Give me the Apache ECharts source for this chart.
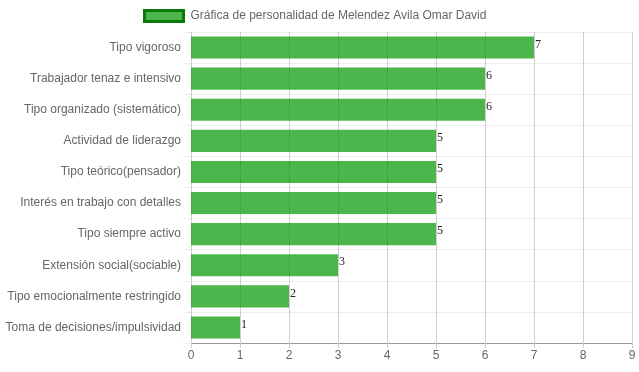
<!DOCTYPE html>
<html><head><meta charset="utf-8">
<script src="https://cdn.jsdelivr.net/npm/echarts@6/dist/echarts.min.js"></script>
<style>html,body{margin:0;padding:0;background:#fff}#c{width:639px;height:372px}</style>
</head><body><div id="c"></div>
<script>
const categories = ["Tipo vigoroso","Trabajador tenaz e intensivo","Tipo organizado (sistemático)","Actividad de liderazgo","Tipo teórico(pensador)","Interés en trabajo con detalles","Tipo siempre activo","Extensión social(sociable)","Tipo emocionalmente restringido","Toma de decisiones/impulsividad"];
const values = [7,6,6,5,5,5,5,3,2,1];
const seriesName = "Gráfica de personalidad de Melendez Avila Omar David";
const chart = echarts.init(document.getElementById('c'), null, {renderer:'canvas'});
chart.setOption({
  animation:false,
  legend:{left:143, top:9, padding:0, itemWidth:39, itemHeight:11, itemGap:9,
    textStyle:{color:'#666', fontFamily:'Liberation Sans, Arial', fontSize:12, padding:[0,0,0,2]},
    data:[{name:seriesName, icon:'rect', itemStyle:{color:'rgba(0,150,0,0.7)', borderColor:'#0a7a0a', borderWidth:3}}]},
  grid:{left:191, right:7, top:32, bottom:29, containLabel:false},
  xAxis:{type:'value', min:0, max:9, interval:1,
    axisLine:{show:true, lineStyle:{color:'#999'}},
    axisTick:{show:true, length:5, lineStyle:{color:'#ccc'}},
    axisLabel:{color:'#666', fontFamily:'Liberation Sans, Arial', fontSize:12, margin:7},
    splitLine:{show:true, lineStyle:{color:'rgba(0,0,0,0.18)'}}},
  yAxis:{type:'category', data:categories, inverse:true,
    axisLine:{show:false},
    axisTick:{show:true, length:8, lineStyle:{color:'#eee'}},
    axisLabel:{color:'#666', fontFamily:'Liberation Sans, Arial', fontSize:12, margin:10},
    splitLine:{show:true, lineStyle:{color:'#eee'}}},
  series:[{name:seriesName, type:'bar', data:values, barCategoryGap:'29%',
    itemStyle:{color:'rgba(0,150,0,0.7)'}, z:1,
    label:{show:true, position:'right', distance:1, offset:[0,-3], color:'#222', fontFamily:'Liberation Serif, Times New Roman, serif', fontSize:12}}]
});
</script></body></html>
